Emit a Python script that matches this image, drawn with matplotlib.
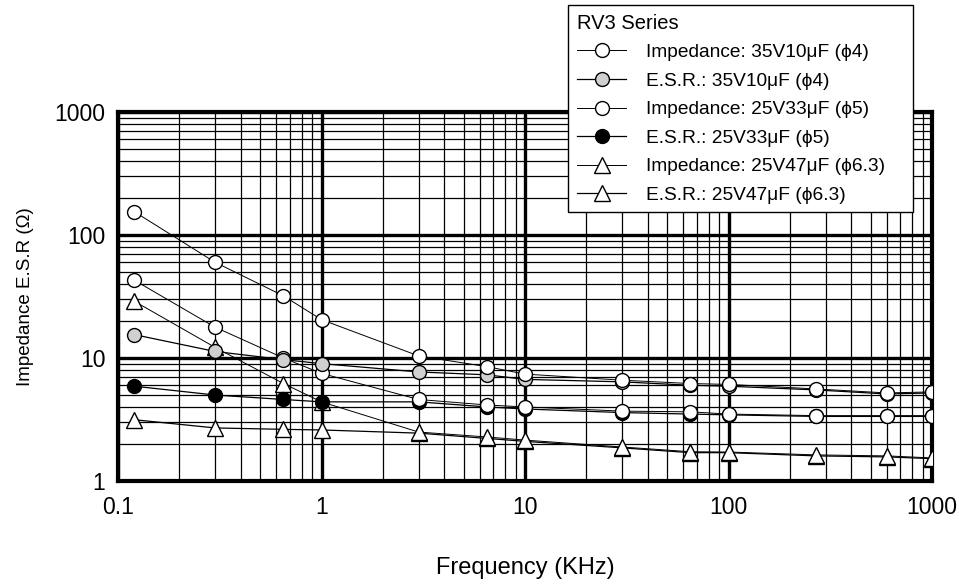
import matplotlib.pyplot as plt
from matplotlib.ticker import FixedLocator, LogLocator, NullFormatter

plt.rcParams['font.family'] = ['Liberation Sans', 'DejaVu Sans']

freq = [0.12, 0.3, 0.65, 1, 3, 6.5, 10, 30, 65, 100, 270, 600, 1000]

imp_35v10 = [155, 60, 32, 20.5, 10.4, 8.5, 7.4, 6.6, 6.2, 6.1, 5.6, 5.2, 5.3]
esr_35v10 = [15.5, 11.3, 9.7, 9.0, 7.7, 7.3, 6.7, 6.4, 6.0, 5.9, 5.5, 5.1, 5.2]
imp_25v33 = [43, 17.8, 10, 7.5, 4.6, 4.15, 4.0, 3.7, 3.65, 3.5, 3.4, 3.4, 3.4]
esr_25v33 = [5.9, 5.0, 4.6, 4.4, 4.4, 4.0, 3.85, 3.6, 3.5, 3.45, 3.35, 3.35, 3.35]
imp_25v47 = [29, 12.2, 6.2, 4.4, 2.5, 2.28, 2.15, 1.89, 1.73, 1.72, 1.63, 1.6, 1.54]
esr_25v47 = [3.15, 2.7, 2.63, 2.6, 2.45, 2.22, 2.1, 1.86, 1.7, 1.7, 1.6, 1.57, 1.52]

labels = ['Impedance: 35V10μF (ϕ4)', 'E.S.R.: 35V10μF (ϕ4)',
          'Impedance: 25V33μF (ϕ5)', 'E.S.R.: 25V33μF (ϕ5)',
          'Impedance: 25V47μF (ϕ6.3)', 'E.S.R.: 25V47μF (ϕ6.3)']

xticks = [0.1, 1, 10, 100, 1000]
xticklabels = ['0.1', '1', '10', '100', '1000']
yticks = [1, 10, 100, 1000]
yticklabels = ['1', '10', '100', '1000']

fig = plt.figure(figsize=(9.59, 5.84), dpi=100)
ax = fig.add_axes([118/959, 1-481/584, (932-118)/959, (481-112)/584])

# series drawn back to front
styles = [
    (esr_25v47, dict(marker='^', mfc='white', ms=11, lw=0.9)),
    (imp_25v47, dict(marker='^', mfc='white', ms=11, lw=0.7)),
    (esr_25v33, dict(marker='o', mfc='black', ms=10, lw=0.9)),
    (imp_25v33, dict(marker='o', mfc='white', ms=10, lw=0.7)),
    (esr_35v10, dict(marker='o', mfc='#d0d0d0', ms=10, lw=0.9)),
    (imp_35v10, dict(marker='o', mfc='white', ms=10, lw=0.7)),
]
handles = {}
for vals, st in styles:
    ln, = ax.plot(freq, vals, color='black', mec='black', mew=1.0, zorder=3, **st)
    handles[id(vals)] = ln

order = [imp_35v10, esr_35v10, imp_25v33, esr_25v33, imp_25v47, esr_25v47]
hl = [handles[id(v)] for v in order]

ax.set_xscale('log')
ax.set_yscale('log')
ax.set_xlim(0.1, 1000)
ax.set_ylim(1, 1000)
ax.xaxis.set_major_locator(FixedLocator(xticks))
ax.set_xticklabels(xticklabels)
ax.yaxis.set_major_locator(FixedLocator(yticks))
ax.set_yticklabels(yticklabels)
ax.xaxis.set_minor_locator(LogLocator(base=10, subs=range(2, 10), numticks=20))
ax.yaxis.set_minor_locator(LogLocator(base=10, subs=range(2, 10), numticks=20))
ax.xaxis.set_minor_formatter(NullFormatter())
ax.yaxis.set_minor_formatter(NullFormatter())
ax.tick_params(which='both', length=0, labelsize=16.5, colors='black')
ax.tick_params(axis='x', pad=11)
ax.tick_params(axis='y', pad=9)

ax.grid(which='major', color='black', lw=2.4)
ax.grid(which='minor', color='black', lw=0.9)
ax.set_axisbelow(True)
for s in ax.spines.values():
    s.set_linewidth(3)

ax.set_xlabel('Frequency (KHz)', fontsize=17, labelpad=27)
ax.set_ylabel('Impedance E.S.R (Ω)', fontsize=13.5, labelpad=15)

leg = fig.legend(hl, labels, title='RV3 Series', loc='upper left',
                 bbox_to_anchor=(568/959, 0, (913-568)/959, 1-5/584),
                 mode='expand', borderaxespad=0,
                 fontsize=13.8, title_fontsize=14.5, alignment='left',
                 fancybox=False, framealpha=1, edgecolor='black',
                 handlelength=2.6, handletextpad=1.0, labelspacing=0.58,
                 borderpad=0.45)
leg.get_frame().set_linewidth(1.0)

plt.savefig('out.png', dpi=100)
